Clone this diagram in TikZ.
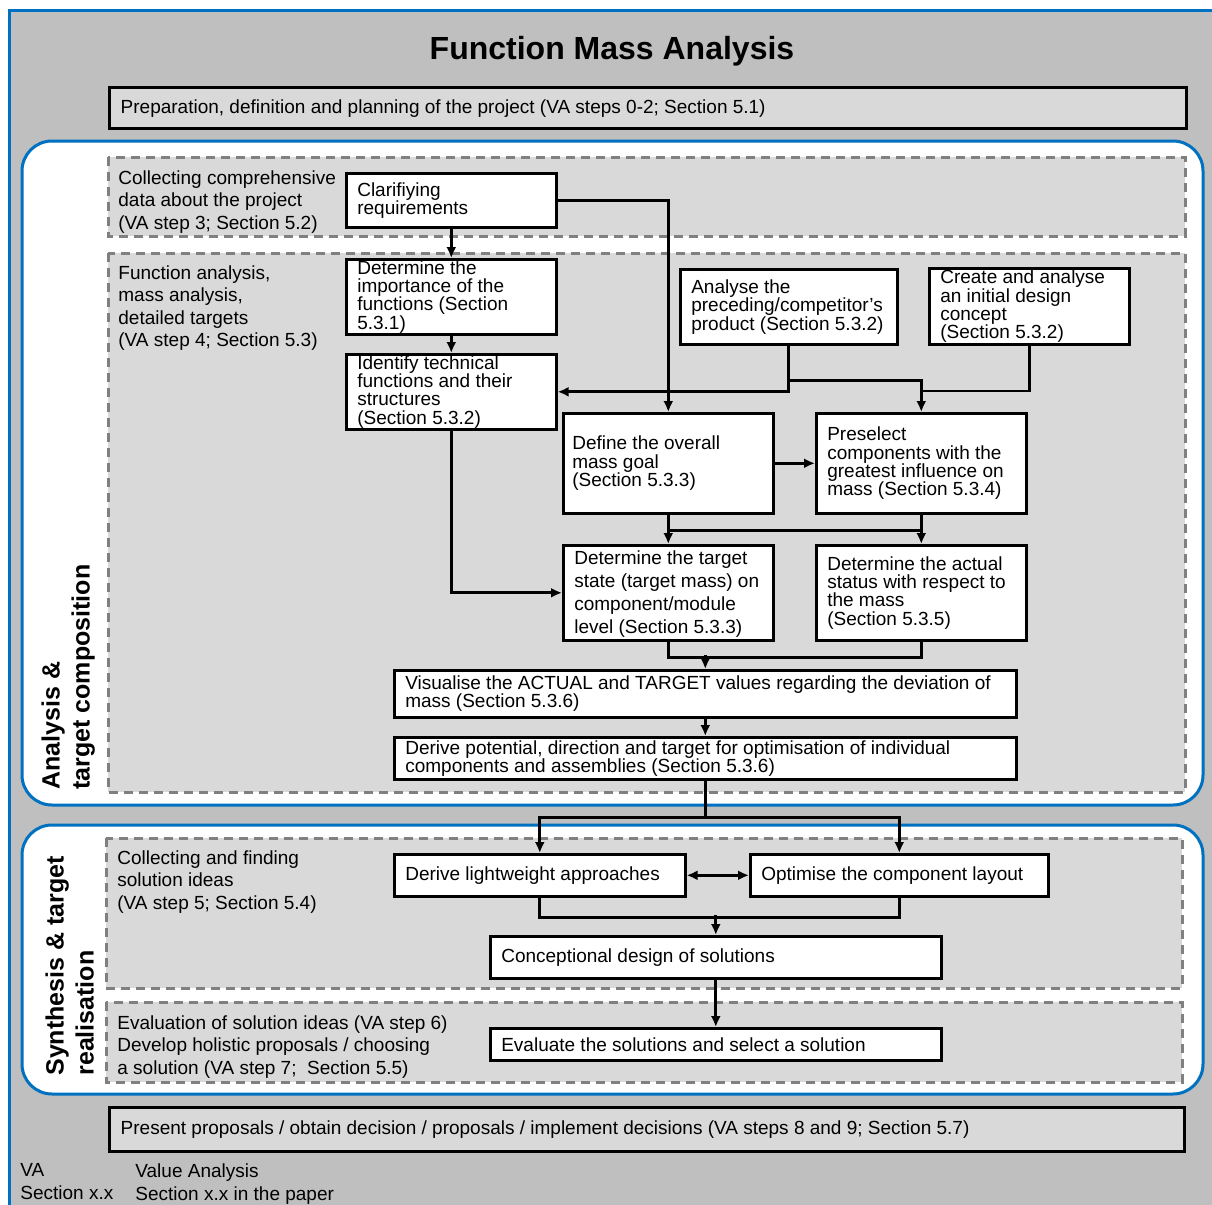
\documentclass[tikz,border=0pt]{standalone}
\usepackage{fontspec}
\setmainfont{Liberation Sans}
\usetikzlibrary{arrows.meta,calc}
\definecolor{fmaGray}{HTML}{BFBFBF}
\definecolor{fmaLight}{HTML}{D9D9D9}
\definecolor{fmaDash}{HTML}{808080}
\definecolor{fmaBlue}{HTML}{0070C0}

\begin{document}
\begin{tikzpicture}[x=0.5pt,y=-0.5pt,>={Latex[length=5.5pt,width=5pt]},
  stepbox/.style={draw,line width=1.3pt,fill=white,align=flush left,anchor=north west,inner xsep=5.5pt,inner ysep=0pt,font=\fontsize{9.5pt}{9.2pt}\selectfont},
  phasebox/.style={stepbox,fill=fmaLight,line width=1.7pt},
  stagearea/.style={draw=fmaDash,fill=fmaLight,line width=1.5pt,dash pattern=on 4.5pt off 3pt},
  phasearea/.style={draw=fmaBlue,fill=white,line width=1.5pt,rounded corners=15pt},
  stagetext/.style={anchor=north west,inner sep=0pt,align=left,font=\fontsize{9.5pt}{11.25pt}\selectfont},
  phaselabel/.style={anchor=north west,inner sep=0pt,align=left,rotate=90,font=\fontsize{12.5pt}{15pt}\selectfont\bfseries},
  flow/.style={line width=1.4pt}]
\useasboundingbox (0,0) rectangle (1212,1205);
\fill[white] (0,0) rectangle (1212,1205);
\draw[draw=fmaBlue,fill=fmaGray,line width=1.5pt] (9,10) rectangle (1240,1240);

\node[font=\fontsize{16pt}{19pt}\selectfont\bfseries] (title) at (612,51) {Function Mass Analysis};
\node[phasebox,text width=527.5pt,minimum height=20.5pt] (prep) at (108,86) {Preparation, definition and planning of the project (VA steps 0-2; Section 5.1)};

\draw[phasearea] (22,141) rectangle (1203,805);
\draw[stagearea] (108,157) rectangle (1185,236);
\draw[stagearea] (108,253) rectangle (1185,792);
\draw[phasearea] (22,825) rectangle (1203,1094);
\draw[stagearea] (106,838) rectangle (1182,988);
\draw[stagearea] (106,1002) rectangle (1182,1082);

\node[stagetext] (collect) at (118,170) {Collecting comprehensive\\data about the project\\(VA step 3; Section 5.2)};
\node[stagetext] (funcan) at (118,265) {Function analysis,\\mass analysis,\\detailed targets\\(VA step 4; Section 5.3)};
\node[stagetext] (ideas) at (117,850) {Collecting and finding\\solution ideas\\(VA step 5; Section 5.4)};
\node[stagetext] (choose) at (117,1015) {Evaluation of solution ideas (VA step 6)\\Develop holistic proposals / choosing\\a solution (VA step 7;\ \ Section 5.5)};
\node[phaselabel] (analysis) at (41,790) {Analysis \&\\target composition};
\node[phaselabel] (synthesis) at (45,1076) {Synthesis \& target\\realisation};

\node[stepbox,text width=94pt,minimum height=27pt] (clar) at (345,172) {Clarifiying\\requirements};
\node[stepbox,text width=94pt,minimum height=37.5pt] (imp) at (345,258) {Determine the\\importance of the\\functions (Section\\5.3.1)};
\node[stepbox,text width=94pt,minimum height=37.5pt] (ident) at (345,353) {Identify technical\\functions and their\\structures\\(Section 5.3.2)};
\node[stepbox,text width=97.5pt,minimum height=37.5pt] (prec) at (679,268) {Analyse the\\preceding/competitor's\\product (Section 5.3.2)};
\node[stepbox,text width=89pt,minimum height=38pt] (init) at (928,267) {Create and analyse\\an initial design\\concept\\(Section 5.3.2)};
\node[stepbox,text width=96pt,minimum height=50pt,inner xsep=4.5pt] (goal) at (562,412) {Define the overall\\mass goal\\(Section 5.3.3)};
\node[stepbox,text width=94pt,minimum height=50pt] (presel) at (815,412) {Preselect\\components with the\\greatest influence on\\mass (Section 5.3.4)};
\node[stepbox,text width=94pt,minimum height=47.5pt,font=\fontsize{9.5pt}{11.6pt}\selectfont] (target) at (562,544) {\rule{0pt}{8pt}Determine the target\\state (target mass) on\\component/module\\level (Section 5.3.3)};
\node[stepbox,text width=94pt,minimum height=47.5pt] (actual) at (815,544) {Determine the actual\\status with respect to\\the mass\\(Section 5.3.5)};
\node[stepbox,text width=300pt,minimum height=23.5pt] (visual) at (393,669) {Visualise the ACTUAL and TARGET values regarding the deviation of\\mass (Section 5.3.6)};
\node[stepbox,text width=300pt,minimum height=21pt] (potent) at (393,736) {Derive potential, direction and target for optimisation of individual\\components and assemblies (Section 5.3.6)};
\node[stepbox,text width=134.5pt,minimum height=21pt] (light) at (393,853) {Derive lightweight approaches};
\node[stepbox,text width=138pt,minimum height=21pt] (layout) at (749,853) {Optimise the component layout};
\node[stepbox,text width=214.5pt,minimum height=21pt] (concept) at (489,935) {Conceptional design of solutions};
\node[stepbox,text width=214.5pt,minimum height=16pt] (evalsol) at (489,1027) {Evaluate the solutions and select a solution};

\node[phasebox,text width=526.5pt,minimum height=22pt] (present) at (108,1106) {Present proposals / obtain decision / proposals / implement decisions (VA steps 8 and 9; Section 5.7)};
\node[stagetext,font=\fontsize{9.5pt}{11.5pt}\selectfont] (vakey) at (20,1163) {VA\\Section x.x};
\node[stagetext,font=\fontsize{9.5pt}{11.5pt}\selectfont] (vatext) at (135,1163) {Value Analysis\\Section x.x in the paper};

\foreach \a/\b in {clar/imp,imp/ident,goal/presel,goal/target,presel/actual,visual/potent,concept/evalsol}
  \draw[->,flow] (\a) -- (\b);
\draw[->,flow] (clar.east) -| (goal.north);
\draw[->,flow] (prec.south) |- (ident.east);
\draw[->,flow] ($(prec.south)+(0,35)$) -| (presel.north);
\draw[flow] (init.south) |- ($(presel.north)+(0,-21)$);
\draw[flow] ($(goal.south)+(0,16)$) -- ($(presel.south)+(0,16)$);
\draw[->,flow] (ident.south) |- (target.west);
\draw[flow] (target.south) -- ++(0,16) -| (actual.south);
\draw[->,flow] ($(visual.north)+(0,-14)$) -- (visual.north);
\coordinate (split) at ($(potent.south)+(0,37)$);
\draw[flow] (potent.south) -- (split);
\draw[->,flow] (split) -| (light.north);
\draw[->,flow] (split) -| (layout.north);
\draw[<->,flow] (light) -- (layout);
\draw[flow] (light.south) -- ++(0,20) -| (layout.south);
\draw[->,flow] ($(concept.north)+(0,-20)$) -- (concept.north);
\end{tikzpicture}
\end{document}
